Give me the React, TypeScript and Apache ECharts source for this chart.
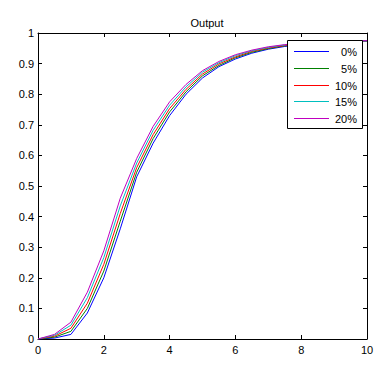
import React, { useEffect, useRef } from "react";
import * as echarts from "echarts";

const xs = [0, 0.5, 1, 1.5, 2, 2.5, 3, 3.5, 4, 4.5, 5, 5.5, 6, 6.5, 7, 7.5, 8, 8.5, 9, 9.5, 10];
const names = ["0%", "5%", "10%", "15%", "20%"];
const colors = ["#0000FF", "#008000", "#FF0000", "#00BFBF", "#BF00BF"];
const s0 = [0, 0.003, 0.015, 0.085, 0.2, 0.36, 0.53, 0.64, 0.73, 0.8, 0.853, 0.89, 0.915, 0.934, 0.947, 0.956, 0.962, 0.967, 0.97, 0.972, 0.974];
const s5 = [0, 0.006, 0.025, 0.1, 0.222, 0.385, 0.545, 0.655, 0.742, 0.808, 0.86, 0.894, 0.919, 0.937, 0.949, 0.958, 0.964, 0.968, 0.971, 0.973, 0.974];
const s10 = [0, 0.009, 0.035, 0.117, 0.244, 0.41, 0.56, 0.668, 0.753, 0.816, 0.866, 0.899, 0.922, 0.94, 0.951, 0.959, 0.965, 0.969, 0.971, 0.973, 0.975];
const s15 = [0, 0.012, 0.045, 0.135, 0.266, 0.435, 0.575, 0.682, 0.764, 0.824, 0.872, 0.903, 0.926, 0.942, 0.953, 0.961, 0.966, 0.969, 0.972, 0.974, 0.975];
const s20 = [0, 0.015, 0.055, 0.153, 0.288, 0.46, 0.59, 0.695, 0.775, 0.832, 0.877, 0.907, 0.929, 0.944, 0.955, 0.962, 0.967, 0.97, 0.972, 0.974, 0.975];
const allSeries = [s0, s5, s10, s15, s20];

const FONT = "Liberation Sans, Arial, sans-serif";

export default function App() {
  const ref = useRef<HTMLDivElement>(null);
  useEffect(() => {
    if (!ref.current) return;
    const chart = echarts.init(ref.current, null, { renderer: "svg" });
    const axisLine = { show: true, onZero: false, lineStyle: { color: "#000", width: 1 } };
    const tick = { show: true, inside: true, length: 4, lineStyle: { color: "#000" } };

    // legend drawn as graphic elements for crisp 1px sample lines
    const legendElems: any[] = [
      {
        type: "rect",
        shape: { x: 287.5, y: 40.5, width: 75, height: 88 },
        style: { fill: "#fff", stroke: "#000", lineWidth: 1 },
        z: 100,
      },
    ];
    names.forEach((n, i) => {
      const y = 51 + Math.round(i * 16.75);
      legendElems.push({
        type: "line",
        shape: { x1: 294, y1: y + 0.5, x2: 329, y2: y + 0.5 },
        style: { stroke: colors[i], lineWidth: 1 },
        z: 101,
      });
      legendElems.push({
        type: "text",
        x: 357,
        y: y + 1,
        style: {
          text: n,
          fill: "#000",
          font: `11px ${FONT}`,
          textAlign: "right",
          textVerticalAlign: "middle",
        },
        z: 101,
      });
    });

    chart.setOption({
      animation: false,
      backgroundColor: "#fff",
      title: {
        text: "Output",
        left: 202,
        textAlign: "center",
        top: 12,
        textStyle: { fontFamily: FONT, fontSize: 11, fontWeight: "normal", color: "#000" },
      },
      grid: { left: 38, right: 25, top: 33, bottom: 42, containLabel: false },
      graphic: legendElems,
      xAxis: [
        {
          type: "value",
          min: 0,
          max: 10,
          interval: 2,
          position: "bottom",
          axisLine,
          axisTick: tick,
          axisLabel: { color: "#000", fontFamily: FONT, fontSize: 11, margin: 5 },
          splitLine: { show: false },
        },
        {
          type: "value",
          min: 0,
          max: 10,
          interval: 2,
          position: "top",
          axisLine,
          axisTick: tick,
          axisLabel: { show: false },
          splitLine: { show: false },
        },
      ],
      yAxis: [
        {
          type: "value",
          min: 0,
          max: 1,
          interval: 0.1,
          position: "left",
          axisLine,
          axisTick: tick,
          axisLabel: { color: "#000", fontFamily: FONT, fontSize: 11, margin: 4 },
          splitLine: { show: false },
        },
        {
          type: "value",
          min: 0,
          max: 1,
          interval: 0.1,
          position: "right",
          axisLine,
          axisTick: tick,
          axisLabel: { show: false },
          splitLine: { show: false },
        },
      ],
      series: allSeries.map((s, i) => ({
        name: names[i],
        type: "line",
        xAxisIndex: 0,
        yAxisIndex: 0,
        showSymbol: false,
        symbol: "none",
        color: colors[i],
        itemStyle: { color: colors[i] },
        lineStyle: { width: 1, color: colors[i] },
        data: xs.map((x, j) => [x, s[j]]),
      })),
    });
    return () => chart.dispose();
  }, []);
  return (
    <div
      ref={ref}
      style={{ position: "fixed", left: 0, top: 0, width: 392, height: 381, background: "#fff" }}
    />
  );
}
